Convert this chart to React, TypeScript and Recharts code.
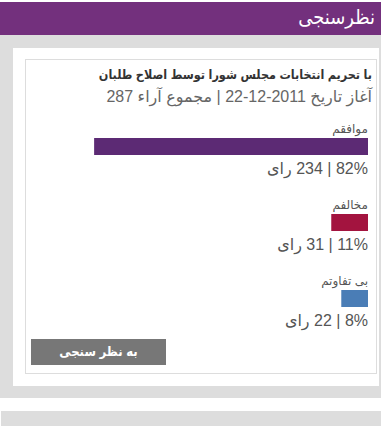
import { BarChart, Bar, XAxis, YAxis, Cell, LabelList } from 'recharts'

const question = 'با تحریم انتخابات مجلس شورا توسط اصلاح طلبان'
const startDate = '2011-12-22'
const totalVotes = 287
const options = ['موافقم', 'مخالفم', 'بی تفاوتم']
const percents = [82, 11, 8]
const votes = [234, 31, 22]
const barColors = ['#5c2a74', '#a3143f', '#4a7db6']

const font = '"Liberation Sans", "DejaVu Sans", sans-serif'
const condensed = '"Liberation Sans", "DejaVu Sans Condensed", "DejaVu Sans", sans-serif'

const data = options.map((name, i) => ({ name, percent: percents[i], votes: votes[i] }))

function OptionLabel(props: any) {
  const { x, y, width, height, index } = props
  const right = Math.max(x, x + width)
  return (
    <g style={{ fontFamily: font }}>
      <text x={right} y={y - 5} direction="rtl" textAnchor="start" fontSize={12} fill="#555">
        {options[index]}
      </text>
      <text x={right} y={y + height + 19} direction="rtl" textAnchor="start" fontSize={16} fill="#555">
        {`${percents[index]}% | ${votes[index]} رای`}
      </text>
    </g>
  )
}

export default function App() {
  return (
    <div style={{ position: 'absolute', left: 0, top: 0, width: 381, height: 439, background: '#fff', fontFamily: font, overflow: 'hidden' }}>
      <div style={{ position: 'absolute', left: 0, top: 2, width: 381, height: 33, background: '#73307d' }}>
        <div style={{ position: 'absolute', right: 6, top: 3, color: '#fff', fontSize: 20, fontFamily: condensed }} dir="rtl">نظرسنجی</div>
      </div>
      <div style={{ position: 'absolute', left: 0, top: 35, width: 381, height: 363, background: '#dddddd' }} />
      <div style={{ position: 'absolute', left: 13, top: 48, width: 366, height: 338, background: '#fff' }} />
      <div style={{ position: 'absolute', left: 25, top: 59, width: 352, height: 315, border: '1px solid #dddddd', boxSizing: 'border-box' }} />
      <div style={{ position: 'absolute', left: 1, top: 411, width: 380, height: 15, background: '#dddddd' }} />

      <div dir="rtl" style={{ position: 'absolute', right: 9, top: 67, fontSize: 12.5, fontWeight: 'bold', color: '#333', whiteSpace: 'nowrap', fontFamily: condensed }}>
        {question}
      </div>
      <div dir="rtl" style={{ position: 'absolute', right: 9, top: 87, fontSize: 16, color: '#666', whiteSpace: 'nowrap' }}>
        {`آغاز تاریخ ${startDate} | مجموع آراء ${totalVotes}`}
      </div>

      <div style={{ position: 'absolute', left: 0, top: 108 }}>
        <BarChart width={381} height={228} data={data} layout="vertical" margin={{ top: 0, right: 13, bottom: 0, left: 34 }} barSize={17}>
          <XAxis type="number" domain={[0, 100]} reversed hide />
          <YAxis type="category" dataKey="name" hide />
          <Bar dataKey="percent" isAnimationActive={false}>
            {data.map((_, i) => (
              <Cell key={i} fill={barColors[i]} />
            ))}
            <LabelList dataKey="percent" content={OptionLabel} />
          </Bar>
        </BarChart>
      </div>

      <div dir="rtl" style={{ position: 'absolute', left: 31, top: 339, width: 135, height: 26, background: '#777', color: '#fff', fontSize: 13, fontWeight: 'bold', textAlign: 'center', lineHeight: '26px', fontFamily: condensed }}>
        به نظر سنجی
      </div>
    </div>
  )
}
